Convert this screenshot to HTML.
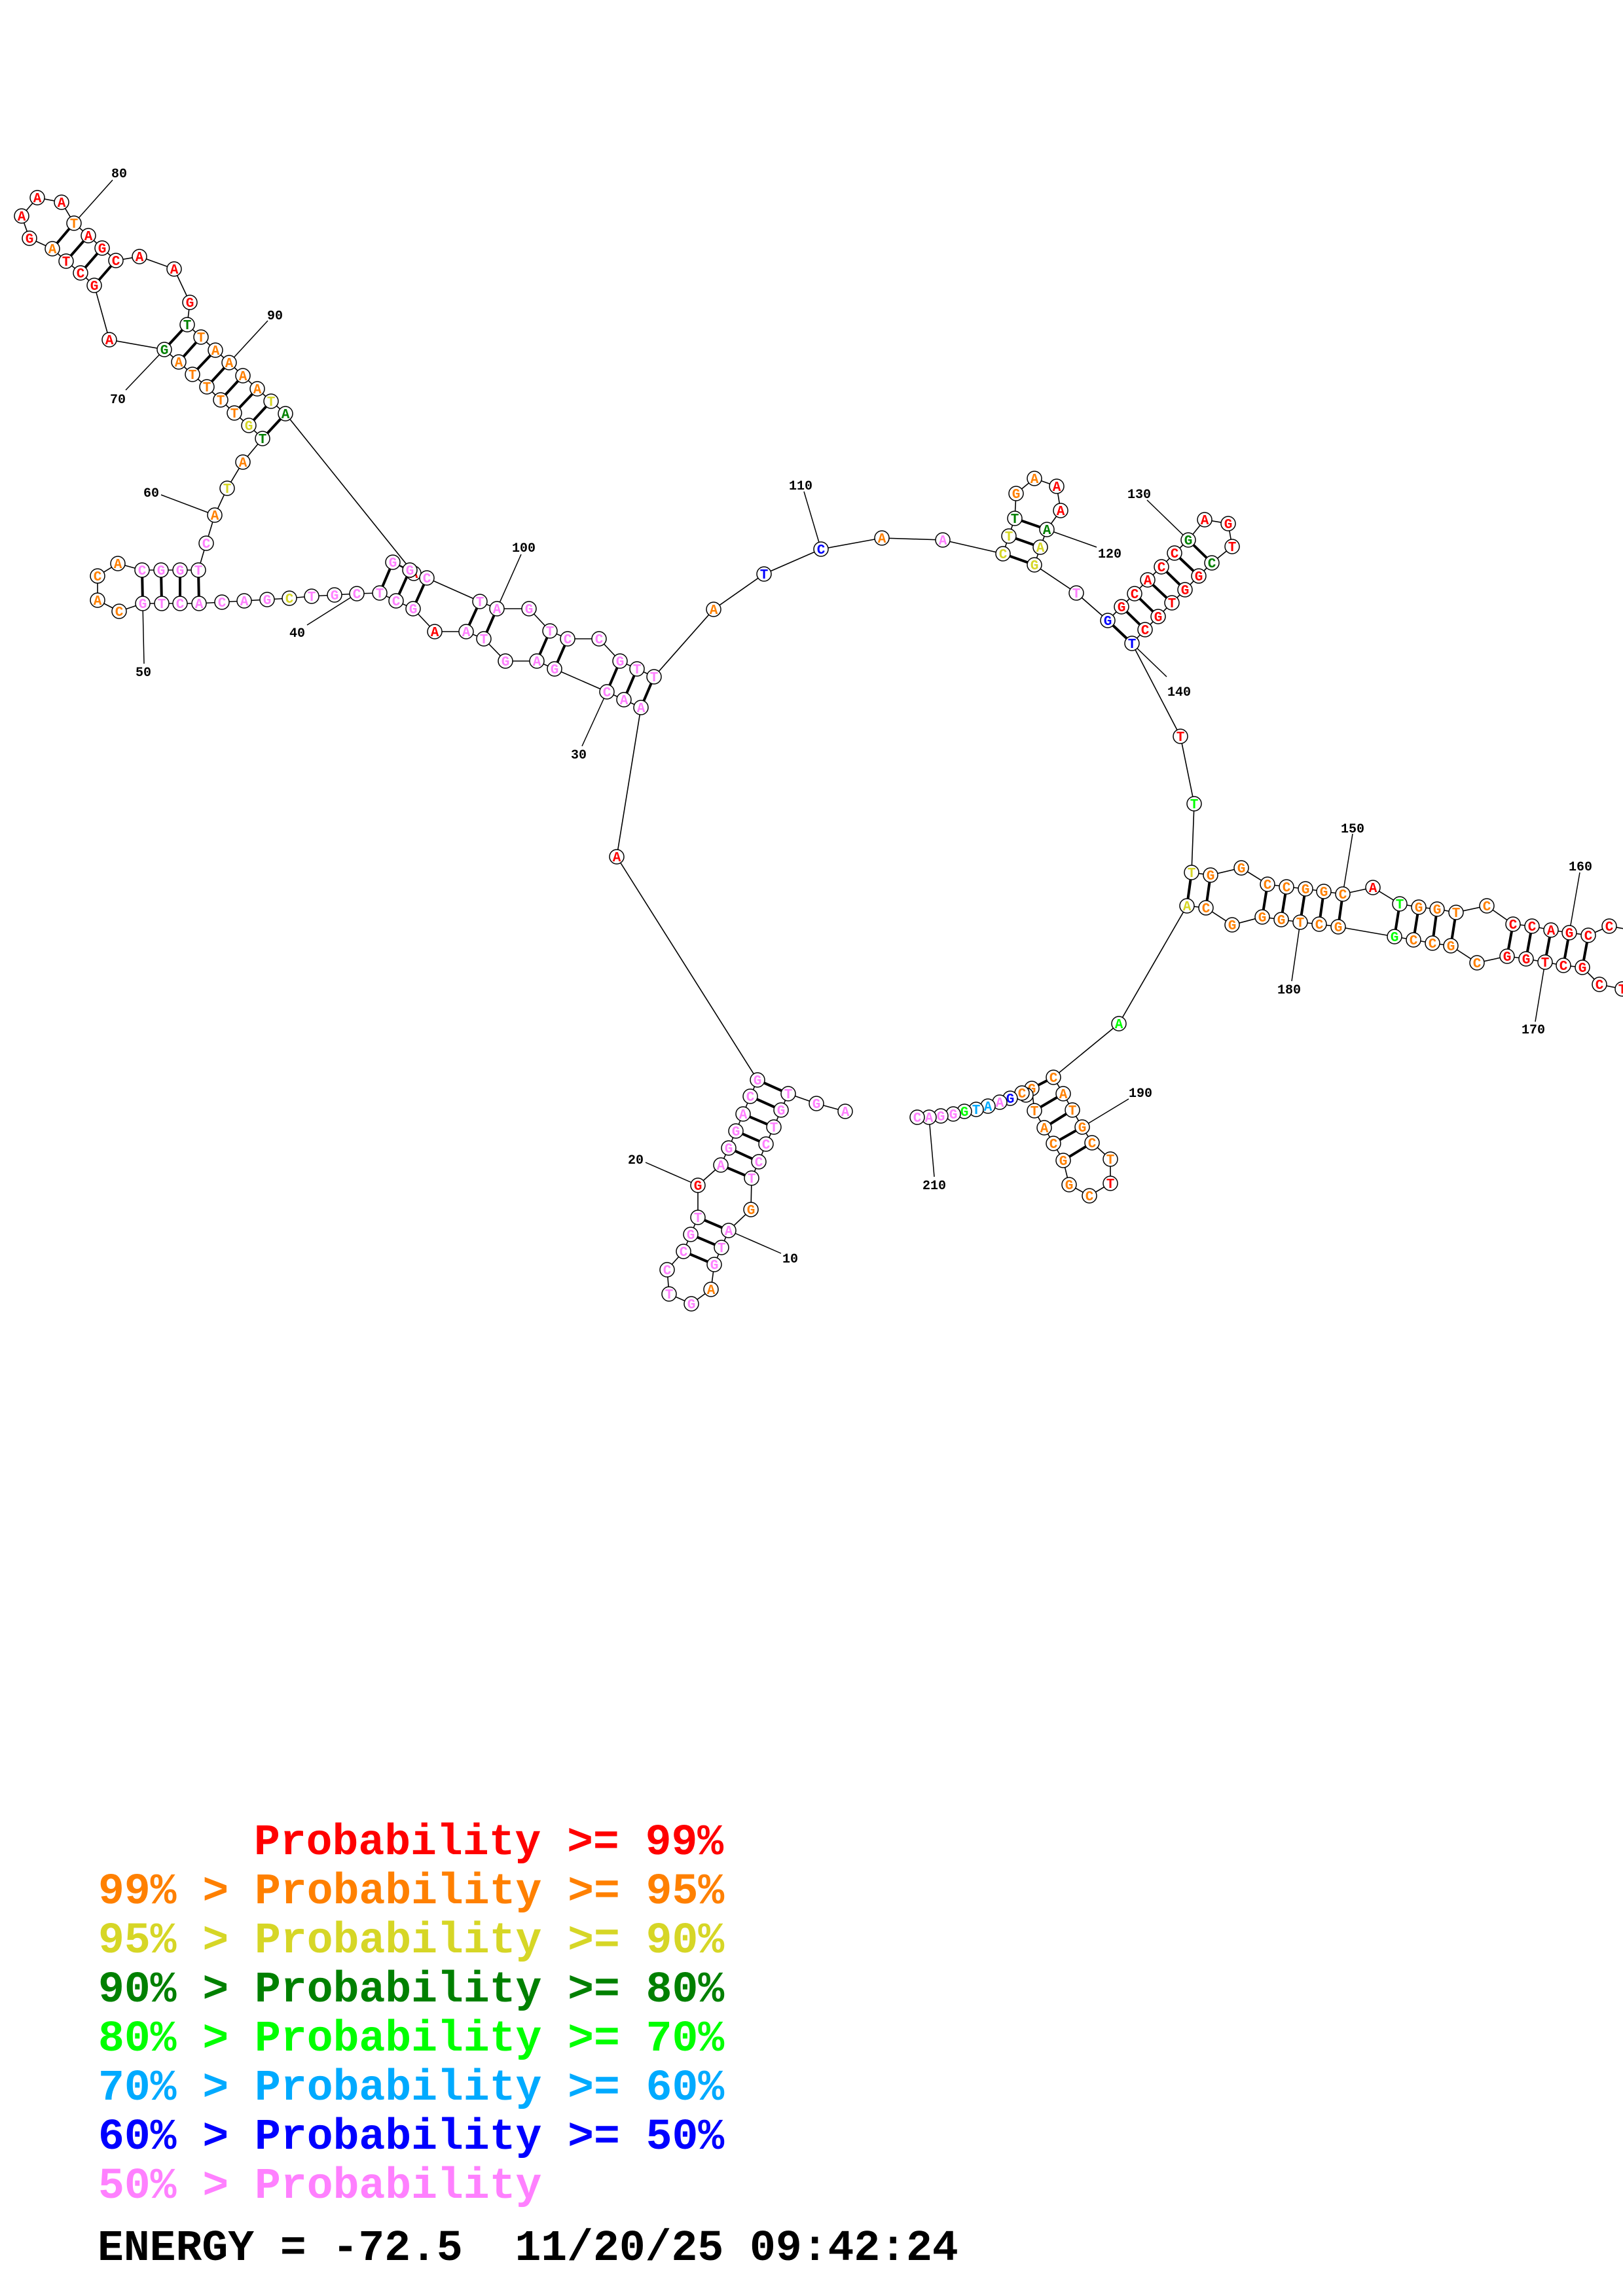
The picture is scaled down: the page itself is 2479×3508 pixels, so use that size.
<!DOCTYPE html>
<html><head><meta charset="utf-8"><title>Structure</title>
<style>
html,body{margin:0;padding:0;background:#fff}
svg{display:block}
.n circle{fill:#fff;stroke:#000;stroke-width:1.5}
.n text{font:bold 21px "Liberation Mono",monospace;text-anchor:middle}
.l text{font:bold 20px "Liberation Mono",monospace;text-anchor:middle;fill:#000}
.t text{font:bold 66.4px "Liberation Mono",monospace;white-space:pre}
.r{fill:#f00}.o{fill:#ff8000}.y{fill:#d6d626}.g{fill:#008000}.v{fill:#0f0}.s{fill:#0af}.b{fill:#00f}.p{fill:#ff80ff}.k{fill:#000}
</style></head><body>
<svg xmlns="http://www.w3.org/2000/svg" width="2479" height="3508" viewBox="0 0 2479 3508">
<rect width="2479" height="3508" fill="#fff"/>
<polyline fill="none" stroke="#000" stroke-width="1.6" points="1291,1698 1247,1686 1204,1671 1193,1696 1182,1722 1170,1748 1159,1775 1148,1800 1147,1848 1113,1880 1102,1906 1091,1932 1086,1970 1056,1992 1022,1977 1019,1940 1044,1912 1055,1886 1066,1860 1066,1811 1101,1780 1113,1754 1124,1728 1135,1702 1146,1675 1157,1650 942,1309 979,1081 953,1069 927,1057 847,1022 820,1010 772,1010 739,976 712,965 664,965 631,930 605,918 580,906 545,907 511,909 476,911 442,914 408,916 373,918 339,920 304,922 275,922 247,922 218,922 182,934 149,917 149,880 180,861 217,871 246,871 275,871 303,871 315,830 328,787 347,746 371,706 401,670 380,650 358,631 337,611 316,591 294,572 273,553 251,534 167,519 144,436 123,417 101,399 80,380 45,364 33,330 57,302 94,309 113,341 135,360 156,379 177,398 213,392 266,411 290,462 286,496 307,515 329,535 350,554 371,574 393,594 414,613 436,632 632,876 600,859 626,871 652,883 733,919 759,930 808,930 840,964 867,976 915,976 947,1010 973,1022 999,1034 1090,931 1167,877 1254,839 1347,822 1440,825 1532,846 1541,819 1550,792 1552,754 1580,731 1614,743 1620,780 1599,809 1589,836 1580,863 1644,906 1692,948 1713,927 1733,907 1753,886 1774,866 1794,845 1815,825 1840,794 1876,800 1882,835 1851,860 1831,880 1810,901 1790,921 1769,942 1749,962 1729,983 1803,1125 1824,1228 1820,1333 1849,1337 1896,1326 1936,1351 1965,1355 1994,1358 2022,1362 2051,1366 2097,1356 2138,1381 2167,1386 2195,1389 2224,1394 2271,1384 2311,1412 2340,1415 2369,1421 2397,1425 2426,1429 2458,1415 2492,1421 2510,1450 2495,1490 2478,1511 2443,1504 2417,1478 2388,1475 2360,1470 2331,1465 2302,1461 2256,1471 2216,1445 2188,1441 2159,1436 2130,1431 2044,1416 2015,1412 1986,1409 1957,1405 1928,1401 1882,1413 1842,1387 1813,1384 1709,1564 1609,1646 1624,1671 1638,1696 1653,1722 1668,1746 1696,1771 1696,1808 1664,1827 1633,1810 1624,1773 1609,1747 1595,1723 1580,1697 1576,1663 1567,1673 1561,1670 1543,1678 1527,1684 1509,1690 1491,1695 1473,1698 1456,1702 1437,1705 1419,1707 1401,1707"/>
<path fill="none" stroke="#000" stroke-width="4" d="M1204,1671L1157,1650M1193,1696L1146,1675M1182,1722L1135,1702M1170,1748L1124,1728M1159,1775L1113,1754M1148,1800L1101,1780M1113,1880L1066,1860M1102,1906L1055,1886M1091,1932L1044,1912M979,1081L999,1034M953,1069L973,1022M927,1057L947,1010M847,1022L867,976M820,1010L840,964M739,976L759,930M712,965L733,919M631,930L652,883M605,918L626,871M580,906L600,859M304,922L303,871M275,922L275,871M247,922L246,871M218,922L217,871M401,670L436,632M380,650L414,613M358,631L393,594M337,611L371,574M316,591L350,554M294,572L329,535M273,553L307,515M251,534L286,496M144,436L177,398M123,417L156,379M101,399L135,360M80,380L113,341M1532,846L1580,863M1541,819L1589,836M1550,792L1599,809M1692,948L1729,983M1713,927L1749,962M1733,907L1769,942M1753,886L1790,921M1774,866L1810,901M1794,845L1831,880M1815,825L1851,860M1820,1333L1813,1384M1849,1337L1842,1387M1936,1351L1928,1401M1965,1355L1957,1405M1994,1358L1986,1409M2022,1362L2015,1412M2051,1366L2044,1416M2138,1381L2130,1431M2167,1386L2159,1436M2195,1389L2188,1441M2224,1394L2216,1445M2311,1412L2302,1461M2340,1415L2331,1465M2369,1421L2360,1470M2397,1425L2388,1475M2426,1429L2417,1478M1609,1646L1576,1663M1624,1671L1580,1697M1638,1696L1595,1723M1653,1722L1609,1747M1668,1746L1624,1773"/>
<path fill="none" stroke="#000" stroke-width="1.5" d="M1113,1880L1193,1915M1066,1811L986,1776M927,1057L889,1140M545,907L469,955M218,922L220,1014M328,787L246,756M251,534L192,596M113,341L172,275M350,554L409,490M759,930L796,847M1254,839L1228,751M1599,809L1675,836M1815,825L1752,764M1729,983L1782,1034M2051,1366L2066,1274M2397,1425L2413,1333M2360,1470L2345,1561M1986,1409L1973,1499M1653,1722L1724,1679M1419,1707L1427,1798"/>
<g class="l">
<text x="1207" y="1929">10</text><text x="971" y="1778">20</text><text x="884" y="1159">30</text><text x="454" y="973">40</text><text x="219" y="1033">50</text><text x="231" y="759">60</text><text x="180" y="616">70</text><text x="182" y="271">80</text><text x="420" y="488">90</text><text x="800" y="843">100</text><text x="1223" y="748">110</text><text x="1695" y="852">120</text><text x="1740" y="761">130</text><text x="1801" y="1063">140</text><text x="2066" y="1272">150</text><text x="2414" y="1330">160</text><text x="2342" y="1579">170</text><text x="1969" y="1518">180</text><text x="1742" y="1676">190</text><text x="1427" y="1817">210</text>
</g>
<g class="n">
<circle cx="1291" cy="1698" r="11"/><text class="p" x="1291" y="1705">A</text>
<circle cx="1247" cy="1686" r="11"/><text class="p" x="1247" y="1693">G</text>
<circle cx="1204" cy="1671" r="11"/><text class="p" x="1204" y="1678">T</text>
<circle cx="1193" cy="1696" r="11"/><text class="p" x="1193" y="1703">G</text>
<circle cx="1182" cy="1722" r="11"/><text class="p" x="1182" y="1729">T</text>
<circle cx="1170" cy="1748" r="11"/><text class="p" x="1170" y="1755">C</text>
<circle cx="1159" cy="1775" r="11"/><text class="p" x="1159" y="1782">C</text>
<circle cx="1148" cy="1800" r="11"/><text class="p" x="1148" y="1807">T</text>
<circle cx="1147" cy="1848" r="11"/><text class="o" x="1147" y="1855">G</text>
<circle cx="1113" cy="1880" r="11"/><text class="p" x="1113" y="1887">A</text>
<circle cx="1102" cy="1906" r="11"/><text class="p" x="1102" y="1913">T</text>
<circle cx="1091" cy="1932" r="11"/><text class="p" x="1091" y="1939">G</text>
<circle cx="1086" cy="1970" r="11"/><text class="o" x="1086" y="1977">A</text>
<circle cx="1056" cy="1992" r="11"/><text class="p" x="1056" y="1999">G</text>
<circle cx="1022" cy="1977" r="11"/><text class="p" x="1022" y="1984">T</text>
<circle cx="1019" cy="1940" r="11"/><text class="p" x="1019" y="1947">C</text>
<circle cx="1044" cy="1912" r="11"/><text class="p" x="1044" y="1919">C</text>
<circle cx="1055" cy="1886" r="11"/><text class="p" x="1055" y="1893">G</text>
<circle cx="1066" cy="1860" r="11"/><text class="p" x="1066" y="1867">T</text>
<circle cx="1066" cy="1811" r="11"/><text class="r" x="1066" y="1818">G</text>
<circle cx="1101" cy="1780" r="11"/><text class="p" x="1101" y="1787">A</text>
<circle cx="1113" cy="1754" r="11"/><text class="p" x="1113" y="1761">G</text>
<circle cx="1124" cy="1728" r="11"/><text class="p" x="1124" y="1735">G</text>
<circle cx="1135" cy="1702" r="11"/><text class="p" x="1135" y="1709">A</text>
<circle cx="1146" cy="1675" r="11"/><text class="p" x="1146" y="1682">C</text>
<circle cx="1157" cy="1650" r="11"/><text class="p" x="1157" y="1657">G</text>
<circle cx="942" cy="1309" r="11"/><text class="r" x="942" y="1316">A</text>
<circle cx="979" cy="1081" r="11"/><text class="p" x="979" y="1088">A</text>
<circle cx="953" cy="1069" r="11"/><text class="p" x="953" y="1076">A</text>
<circle cx="927" cy="1057" r="11"/><text class="p" x="927" y="1064">C</text>
<circle cx="847" cy="1022" r="11"/><text class="p" x="847" y="1029">G</text>
<circle cx="820" cy="1010" r="11"/><text class="p" x="820" y="1017">A</text>
<circle cx="772" cy="1010" r="11"/><text class="p" x="772" y="1017">G</text>
<circle cx="739" cy="976" r="11"/><text class="p" x="739" y="983">T</text>
<circle cx="712" cy="965" r="11"/><text class="p" x="712" y="972">A</text>
<circle cx="664" cy="965" r="11"/><text class="r" x="664" y="972">A</text>
<circle cx="631" cy="930" r="11"/><text class="p" x="631" y="937">G</text>
<circle cx="605" cy="918" r="11"/><text class="p" x="605" y="925">C</text>
<circle cx="580" cy="906" r="11"/><text class="p" x="580" y="913">T</text>
<circle cx="545" cy="907" r="11"/><text class="p" x="545" y="914">C</text>
<circle cx="511" cy="909" r="11"/><text class="p" x="511" y="916">G</text>
<circle cx="476" cy="911" r="11"/><text class="p" x="476" y="918">T</text>
<circle cx="442" cy="914" r="11"/><text class="y" x="442" y="921">C</text>
<circle cx="408" cy="916" r="11"/><text class="p" x="408" y="923">G</text>
<circle cx="373" cy="918" r="11"/><text class="p" x="373" y="925">A</text>
<circle cx="339" cy="920" r="11"/><text class="p" x="339" y="927">C</text>
<circle cx="304" cy="922" r="11"/><text class="p" x="304" y="929">A</text>
<circle cx="275" cy="922" r="11"/><text class="p" x="275" y="929">C</text>
<circle cx="247" cy="922" r="11"/><text class="p" x="247" y="929">T</text>
<circle cx="218" cy="922" r="11"/><text class="p" x="218" y="929">G</text>
<circle cx="182" cy="934" r="11"/><text class="o" x="182" y="941">C</text>
<circle cx="149" cy="917" r="11"/><text class="o" x="149" y="924">A</text>
<circle cx="149" cy="880" r="11"/><text class="o" x="149" y="887">C</text>
<circle cx="180" cy="861" r="11"/><text class="o" x="180" y="868">A</text>
<circle cx="217" cy="871" r="11"/><text class="p" x="217" y="878">C</text>
<circle cx="246" cy="871" r="11"/><text class="p" x="246" y="878">G</text>
<circle cx="275" cy="871" r="11"/><text class="p" x="275" y="878">G</text>
<circle cx="303" cy="871" r="11"/><text class="p" x="303" y="878">T</text>
<circle cx="315" cy="830" r="11"/><text class="p" x="315" y="837">C</text>
<circle cx="328" cy="787" r="11"/><text class="o" x="328" y="794">A</text>
<circle cx="347" cy="746" r="11"/><text class="y" x="347" y="753">T</text>
<circle cx="371" cy="706" r="11"/><text class="o" x="371" y="713">A</text>
<circle cx="401" cy="670" r="11"/><text class="g" x="401" y="677">T</text>
<circle cx="380" cy="650" r="11"/><text class="y" x="380" y="657">G</text>
<circle cx="358" cy="631" r="11"/><text class="o" x="358" y="638">T</text>
<circle cx="337" cy="611" r="11"/><text class="o" x="337" y="618">T</text>
<circle cx="316" cy="591" r="11"/><text class="o" x="316" y="598">T</text>
<circle cx="294" cy="572" r="11"/><text class="o" x="294" y="579">T</text>
<circle cx="273" cy="553" r="11"/><text class="o" x="273" y="560">A</text>
<circle cx="251" cy="534" r="11"/><text class="g" x="251" y="541">G</text>
<circle cx="167" cy="519" r="11"/><text class="r" x="167" y="526">A</text>
<circle cx="144" cy="436" r="11"/><text class="r" x="144" y="443">G</text>
<circle cx="123" cy="417" r="11"/><text class="r" x="123" y="424">C</text>
<circle cx="101" cy="399" r="11"/><text class="r" x="101" y="406">T</text>
<circle cx="80" cy="380" r="11"/><text class="o" x="80" y="387">A</text>
<circle cx="45" cy="364" r="11"/><text class="r" x="45" y="371">G</text>
<circle cx="33" cy="330" r="11"/><text class="r" x="33" y="337">A</text>
<circle cx="57" cy="302" r="11"/><text class="r" x="57" y="309">A</text>
<circle cx="94" cy="309" r="11"/><text class="r" x="94" y="316">A</text>
<circle cx="113" cy="341" r="11"/><text class="o" x="113" y="348">T</text>
<circle cx="135" cy="360" r="11"/><text class="r" x="135" y="367">A</text>
<circle cx="156" cy="379" r="11"/><text class="r" x="156" y="386">G</text>
<circle cx="177" cy="398" r="11"/><text class="r" x="177" y="405">C</text>
<circle cx="213" cy="392" r="11"/><text class="r" x="213" y="399">A</text>
<circle cx="266" cy="411" r="11"/><text class="r" x="266" y="418">A</text>
<circle cx="290" cy="462" r="11"/><text class="r" x="290" y="469">G</text>
<circle cx="286" cy="496" r="11"/><text class="g" x="286" y="503">T</text>
<circle cx="307" cy="515" r="11"/><text class="o" x="307" y="522">T</text>
<circle cx="329" cy="535" r="11"/><text class="o" x="329" y="542">A</text>
<circle cx="350" cy="554" r="11"/><text class="o" x="350" y="561">A</text>
<circle cx="371" cy="574" r="11"/><text class="o" x="371" y="581">A</text>
<circle cx="393" cy="594" r="11"/><text class="o" x="393" y="601">A</text>
<circle cx="414" cy="613" r="11"/><text class="y" x="414" y="620">T</text>
<circle cx="436" cy="632" r="11"/><text class="g" x="436" y="639">A</text>
<circle cx="632" cy="876" r="11"/><text class="r" x="632" y="883">A</text>
<circle cx="600" cy="859" r="11"/><text class="p" x="600" y="866">G</text>
<circle cx="626" cy="871" r="11"/><text class="p" x="626" y="878">G</text>
<circle cx="652" cy="883" r="11"/><text class="p" x="652" y="890">C</text>
<circle cx="733" cy="919" r="11"/><text class="p" x="733" y="926">T</text>
<circle cx="759" cy="930" r="11"/><text class="p" x="759" y="937">A</text>
<circle cx="808" cy="930" r="11"/><text class="p" x="808" y="937">G</text>
<circle cx="840" cy="964" r="11"/><text class="p" x="840" y="971">T</text>
<circle cx="867" cy="976" r="11"/><text class="p" x="867" y="983">C</text>
<circle cx="915" cy="976" r="11"/><text class="p" x="915" y="983">C</text>
<circle cx="947" cy="1010" r="11"/><text class="p" x="947" y="1017">G</text>
<circle cx="973" cy="1022" r="11"/><text class="p" x="973" y="1029">T</text>
<circle cx="999" cy="1034" r="11"/><text class="p" x="999" y="1041">T</text>
<circle cx="1090" cy="931" r="11"/><text class="o" x="1090" y="938">A</text>
<circle cx="1167" cy="877" r="11"/><text class="b" x="1167" y="884">T</text>
<circle cx="1254" cy="839" r="11"/><text class="b" x="1254" y="846">C</text>
<circle cx="1347" cy="822" r="11"/><text class="o" x="1347" y="829">A</text>
<circle cx="1440" cy="825" r="11"/><text class="p" x="1440" y="832">A</text>
<circle cx="1532" cy="846" r="11"/><text class="y" x="1532" y="853">C</text>
<circle cx="1541" cy="819" r="11"/><text class="y" x="1541" y="826">T</text>
<circle cx="1550" cy="792" r="11"/><text class="g" x="1550" y="799">T</text>
<circle cx="1552" cy="754" r="11"/><text class="o" x="1552" y="761">G</text>
<circle cx="1580" cy="731" r="11"/><text class="o" x="1580" y="738">A</text>
<circle cx="1614" cy="743" r="11"/><text class="r" x="1614" y="750">A</text>
<circle cx="1620" cy="780" r="11"/><text class="r" x="1620" y="787">A</text>
<circle cx="1599" cy="809" r="11"/><text class="g" x="1599" y="816">A</text>
<circle cx="1589" cy="836" r="11"/><text class="y" x="1589" y="843">A</text>
<circle cx="1580" cy="863" r="11"/><text class="y" x="1580" y="870">G</text>
<circle cx="1644" cy="906" r="11"/><text class="p" x="1644" y="913">T</text>
<circle cx="1692" cy="948" r="11"/><text class="b" x="1692" y="955">G</text>
<circle cx="1713" cy="927" r="11"/><text class="r" x="1713" y="934">G</text>
<circle cx="1733" cy="907" r="11"/><text class="r" x="1733" y="914">C</text>
<circle cx="1753" cy="886" r="11"/><text class="r" x="1753" y="893">A</text>
<circle cx="1774" cy="866" r="11"/><text class="r" x="1774" y="873">C</text>
<circle cx="1794" cy="845" r="11"/><text class="r" x="1794" y="852">C</text>
<circle cx="1815" cy="825" r="11"/><text class="g" x="1815" y="832">G</text>
<circle cx="1840" cy="794" r="11"/><text class="r" x="1840" y="801">A</text>
<circle cx="1876" cy="800" r="11"/><text class="r" x="1876" y="807">G</text>
<circle cx="1882" cy="835" r="11"/><text class="r" x="1882" y="842">T</text>
<circle cx="1851" cy="860" r="11"/><text class="g" x="1851" y="867">C</text>
<circle cx="1831" cy="880" r="11"/><text class="r" x="1831" y="887">G</text>
<circle cx="1810" cy="901" r="11"/><text class="r" x="1810" y="908">G</text>
<circle cx="1790" cy="921" r="11"/><text class="r" x="1790" y="928">T</text>
<circle cx="1769" cy="942" r="11"/><text class="r" x="1769" y="949">G</text>
<circle cx="1749" cy="962" r="11"/><text class="r" x="1749" y="969">C</text>
<circle cx="1729" cy="983" r="11"/><text class="b" x="1729" y="990">T</text>
<circle cx="1803" cy="1125" r="11"/><text class="r" x="1803" y="1132">T</text>
<circle cx="1824" cy="1228" r="11"/><text class="v" x="1824" y="1235">T</text>
<circle cx="1820" cy="1333" r="11"/><text class="y" x="1820" y="1340">T</text>
<circle cx="1849" cy="1337" r="11"/><text class="o" x="1849" y="1344">G</text>
<circle cx="1896" cy="1326" r="11"/><text class="o" x="1896" y="1333">G</text>
<circle cx="1936" cy="1351" r="11"/><text class="o" x="1936" y="1358">C</text>
<circle cx="1965" cy="1355" r="11"/><text class="o" x="1965" y="1362">C</text>
<circle cx="1994" cy="1358" r="11"/><text class="o" x="1994" y="1365">G</text>
<circle cx="2022" cy="1362" r="11"/><text class="o" x="2022" y="1369">G</text>
<circle cx="2051" cy="1366" r="11"/><text class="o" x="2051" y="1373">C</text>
<circle cx="2097" cy="1356" r="11"/><text class="r" x="2097" y="1363">A</text>
<circle cx="2138" cy="1381" r="11"/><text class="v" x="2138" y="1388">T</text>
<circle cx="2167" cy="1386" r="11"/><text class="o" x="2167" y="1393">G</text>
<circle cx="2195" cy="1389" r="11"/><text class="o" x="2195" y="1396">G</text>
<circle cx="2224" cy="1394" r="11"/><text class="o" x="2224" y="1401">T</text>
<circle cx="2271" cy="1384" r="11"/><text class="o" x="2271" y="1391">C</text>
<circle cx="2311" cy="1412" r="11"/><text class="r" x="2311" y="1419">C</text>
<circle cx="2340" cy="1415" r="11"/><text class="r" x="2340" y="1422">C</text>
<circle cx="2369" cy="1421" r="11"/><text class="r" x="2369" y="1428">A</text>
<circle cx="2397" cy="1425" r="11"/><text class="r" x="2397" y="1432">G</text>
<circle cx="2426" cy="1429" r="11"/><text class="r" x="2426" y="1436">C</text>
<circle cx="2458" cy="1415" r="11"/><text class="r" x="2458" y="1422">C</text>
<circle cx="2478" cy="1511" r="11"/><text class="r" x="2478" y="1518">T</text>
<circle cx="2443" cy="1504" r="11"/><text class="r" x="2443" y="1511">C</text>
<circle cx="2417" cy="1478" r="11"/><text class="r" x="2417" y="1485">G</text>
<circle cx="2388" cy="1475" r="11"/><text class="r" x="2388" y="1482">C</text>
<circle cx="2360" cy="1470" r="11"/><text class="r" x="2360" y="1477">T</text>
<circle cx="2331" cy="1465" r="11"/><text class="r" x="2331" y="1472">G</text>
<circle cx="2302" cy="1461" r="11"/><text class="r" x="2302" y="1468">G</text>
<circle cx="2256" cy="1471" r="11"/><text class="o" x="2256" y="1478">C</text>
<circle cx="2216" cy="1445" r="11"/><text class="o" x="2216" y="1452">G</text>
<circle cx="2188" cy="1441" r="11"/><text class="o" x="2188" y="1448">C</text>
<circle cx="2159" cy="1436" r="11"/><text class="o" x="2159" y="1443">C</text>
<circle cx="2130" cy="1431" r="11"/><text class="v" x="2130" y="1438">G</text>
<circle cx="2044" cy="1416" r="11"/><text class="o" x="2044" y="1423">G</text>
<circle cx="2015" cy="1412" r="11"/><text class="o" x="2015" y="1419">C</text>
<circle cx="1986" cy="1409" r="11"/><text class="o" x="1986" y="1416">T</text>
<circle cx="1957" cy="1405" r="11"/><text class="o" x="1957" y="1412">G</text>
<circle cx="1928" cy="1401" r="11"/><text class="o" x="1928" y="1408">G</text>
<circle cx="1882" cy="1413" r="11"/><text class="o" x="1882" y="1420">G</text>
<circle cx="1842" cy="1387" r="11"/><text class="o" x="1842" y="1394">C</text>
<circle cx="1813" cy="1384" r="11"/><text class="y" x="1813" y="1391">A</text>
<circle cx="1709" cy="1564" r="11"/><text class="v" x="1709" y="1571">A</text>
<circle cx="1609" cy="1646" r="11"/><text class="o" x="1609" y="1653">C</text>
<circle cx="1624" cy="1671" r="11"/><text class="o" x="1624" y="1678">A</text>
<circle cx="1638" cy="1696" r="11"/><text class="o" x="1638" y="1703">T</text>
<circle cx="1653" cy="1722" r="11"/><text class="o" x="1653" y="1729">G</text>
<circle cx="1668" cy="1746" r="11"/><text class="o" x="1668" y="1753">C</text>
<circle cx="1696" cy="1771" r="11"/><text class="o" x="1696" y="1778">T</text>
<circle cx="1696" cy="1808" r="11"/><text class="r" x="1696" y="1815">T</text>
<circle cx="1664" cy="1827" r="11"/><text class="o" x="1664" y="1834">C</text>
<circle cx="1633" cy="1810" r="11"/><text class="o" x="1633" y="1817">G</text>
<circle cx="1624" cy="1773" r="11"/><text class="o" x="1624" y="1780">G</text>
<circle cx="1609" cy="1747" r="11"/><text class="o" x="1609" y="1754">C</text>
<circle cx="1595" cy="1723" r="11"/><text class="o" x="1595" y="1730">A</text>
<circle cx="1580" cy="1697" r="11"/><text class="o" x="1580" y="1704">T</text>
<circle cx="1576" cy="1663" r="11"/><text class="o" x="1576" y="1670">G</text>
<circle cx="1567" cy="1673" r="11"/>
<circle cx="1561" cy="1670" r="11"/><text class="o" x="1561" y="1677">C</text>
<circle cx="1543" cy="1678" r="11"/><text class="b" x="1543" y="1685">G</text>
<circle cx="1527" cy="1684" r="11"/><text class="p" x="1527" y="1691">A</text>
<circle cx="1509" cy="1690" r="11"/><text class="s" x="1509" y="1697">A</text>
<circle cx="1491" cy="1695" r="11"/><text class="s" x="1491" y="1702">T</text>
<circle cx="1473" cy="1698" r="11"/><text class="v" x="1473" y="1705">G</text>
<circle cx="1456" cy="1702" r="11"/><text class="p" x="1456" y="1709">G</text>
<circle cx="1437" cy="1705" r="11"/><text class="p" x="1437" y="1712">G</text>
<circle cx="1419" cy="1707" r="11"/><text class="p" x="1419" y="1714">A</text>
<circle cx="1401" cy="1707" r="11"/><text class="p" x="1401" y="1714">C</text>
</g>
<g class="t">
<text class="r" x="388" y="2833">Probability &gt;= 99%</text>
<text class="o" x="150" y="2908">99% &gt; Probability &gt;= 95%</text>
<text class="y" x="150" y="2983">95% &gt; Probability &gt;= 90%</text>
<text class="g" x="150" y="3058">90% &gt; Probability &gt;= 80%</text>
<text class="v" x="150" y="3133">80% &gt; Probability &gt;= 70%</text>
<text class="s" x="150" y="3208">70% &gt; Probability &gt;= 60%</text>
<text class="b" x="150" y="3283">60% &gt; Probability &gt;= 50%</text>
<text class="p" x="150" y="3358">50% &gt; Probability</text>
<text class="k" x="149" y="3453">ENERGY = -72.5  11/20/25 09:42:24</text>
</g>
</svg>
</body></html>
